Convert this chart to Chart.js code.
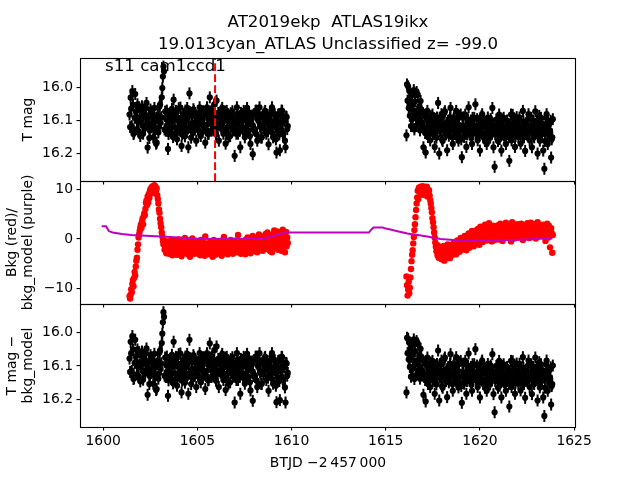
<!DOCTYPE html>
<html><head><meta charset="utf-8">
<script src="https://cdn.jsdelivr.net/npm/chart.js@4.4.1/dist/chart.umd.min.js"></script>
<style>
html,body{margin:0;padding:0;background:#fff;}
#wrap{position:relative;width:640px;height:480px;background:#fff;}
canvas{position:absolute;left:0;top:0;}
</style></head><body>
<div id="wrap">
<canvas id="c1" width="640" height="480"></canvas>
<canvas id="c2" width="640" height="480"></canvas>
<canvas id="c3" width="640" height="480"></canvas>
</div>
<script>
// ---- data ----
const titleLines = ["AT2019ekp  ATLAS19ikx", "19.013cyan_ATLAS Unclassified z= -99.0"];
const panelNote = "s11 cam1ccd1";
const xTitle = "BTJD \u22122\u2009457\u2009000";
const yTitles = ["T mag", ["Bkg (red)/", "bkg_model (purple)"], ["T mag \u2212", "bkg_model"]];
const xTicks = [1600, 1605, 1610, 1615, 1620, 1625];
const magTicks = [16.0, 16.1, 16.2];
const bkgTicks = [10, 0, -10];
const eventTime = 1605.94;

// times, orbit 1
const t1 = [
1601.40,1601.43,1601.46,1601.49,1601.52,1601.55,1601.58,1601.61,1601.64,1601.67,1601.70,1601.73,1601.76,1601.79,1601.82,1601.85,1601.88,1601.91,1601.94,1601.97,
1602.00,1602.03,1602.06,1602.09,1602.12,1602.15,1602.18,1602.21,1602.24,1602.27,1602.30,1602.33,1602.36,1602.39,1602.42,1602.45,1602.48,1602.51,1602.54,1602.57,
1602.60,1602.63,1602.66,1602.69,1602.72,1602.75,1602.78,1602.81,1602.84,1602.87,1602.90,1602.93,1602.96,1602.99,1603.02,1603.05,1603.08,1603.11,1603.14,1603.17,
1603.20,1603.23,1603.26,1603.29,1603.32,1603.35,1603.38,1603.41,1603.44,1603.47,1603.50,1603.53,1603.56,1603.59,1603.62,1603.65,1603.68,1603.71,1603.74,1603.77,
1603.80,1603.83,1603.86,1603.89,1603.92,1603.95,1603.98,1604.01,1604.04,1604.07,1604.10,1604.13,1604.16,1604.19,1604.22,1604.25,1604.28,1604.31,1604.34,1604.37,
1604.40,1604.43,1604.46,1604.49,1604.52,1604.55,1604.58,1604.61,1604.64,1604.67,1604.70,1604.73,1604.76,1604.79,1604.82,1604.85,1604.88,1604.91,1604.94,1604.97,
1605.00,1605.03,1605.06,1605.09,1605.12,1605.15,1605.18,1605.21,1605.24,1605.27,1605.30,1605.33,1605.36,1605.39,1605.42,1605.45,1605.48,1605.51,1605.54,1605.57,
1605.60,1605.63,1605.66,1605.69,1605.72,1605.75,1605.78,1605.81,1605.84,1605.87,1605.90,1605.93,1605.96,1605.99,1606.02,1606.05,1606.08,1606.11,1606.14,1606.17,
1606.20,1606.23,1606.26,1606.29,1606.32,1606.35,1606.38,1606.41,1606.44,1606.47,1606.50,1606.53,1606.56,1606.59,1606.62,1606.65,1606.68,1606.71,1606.74,1606.77,
1606.80,1606.83,1606.86,1606.89,1606.92,1606.95,1606.98,1607.01,1607.04,1607.07,1607.10,1607.13,1607.16,1607.19,1607.22,1607.25,1607.28,1607.31,1607.34,1607.37,
1607.40,1607.43,1607.46,1607.49,1607.52,1607.55,1607.58,1607.61,1607.64,1607.67,1607.70,1607.73,1607.76,1607.79,1607.82,1607.85,1607.88,1607.91,1607.94,1607.97,
1608.00,1608.03,1608.06,1608.09,1608.12,1608.15,1608.18,1608.21,1608.24,1608.27,1608.30,1608.33,1608.36,1608.39,1608.42,1608.45,1608.48,1608.51,1608.54,1608.57,
1608.60,1608.63,1608.66,1608.69,1608.72,1608.75,1608.78,1608.81,1608.84,1608.87,1608.90,1608.93,1608.96,1608.99,1609.02,1609.05,1609.08,1609.11,1609.14,1609.17,
1609.20,1609.23,1609.26,1609.29,1609.32,1609.35,1609.38,1609.41,1609.44,1609.47,1609.50,1609.53,1609.56,1609.59,1609.62,1609.65,1609.68,1609.71,1609.74,1609.77,
1609.80];
// times, orbit 2
const t2 = [
1616.10,1616.13,1616.16,1616.19,1616.22,1616.25,1616.28,1616.31,1616.34,1616.37,1616.40,1616.43,1616.46,1616.49,1616.52,1616.55,1616.58,1616.61,1616.64,1616.67,
1616.70,1616.73,1616.76,1616.79,1616.82,1616.85,1616.88,1616.91,1616.94,1616.97,1617.00,1617.03,1617.06,1617.09,1617.12,1617.15,1617.18,1617.21,1617.24,1617.27,
1617.30,1617.33,1617.36,1617.39,1617.42,1617.45,1617.48,1617.51,1617.54,1617.57,1617.60,1617.63,1617.66,1617.69,1617.72,1617.75,1617.78,1617.81,1617.84,1617.87,
1617.90,1617.93,1617.96,1617.99,1618.02,1618.05,1618.08,1618.11,1618.14,1618.17,1618.20,1618.23,1618.26,1618.29,1618.32,1618.35,1618.38,1618.41,1618.44,1618.47,
1618.50,1618.53,1618.56,1618.59,1618.62,1618.65,1618.68,1618.71,1618.74,1618.77,1618.80,1618.83,1618.86,1618.89,1618.92,1618.95,1618.98,1619.01,1619.04,1619.07,
1619.10,1619.13,1619.16,1619.19,1619.22,1619.25,1619.28,1619.31,1619.34,1619.37,1619.40,1619.43,1619.46,1619.49,1619.52,1619.55,1619.58,1619.61,1619.64,1619.67,
1619.70,1619.73,1619.76,1619.79,1619.82,1619.85,1619.88,1619.91,1619.94,1619.97,1620.00,1620.03,1620.06,1620.09,1620.12,1620.15,1620.18,1620.21,1620.24,1620.27,
1620.30,1620.33,1620.36,1620.39,1620.42,1620.45,1620.48,1620.51,1620.54,1620.57,1620.60,1620.63,1620.66,1620.69,1620.72,1620.75,1620.78,1620.81,1620.84,1620.87,
1620.90,1620.93,1620.96,1620.99,1621.02,1621.05,1621.08,1621.11,1621.14,1621.17,1621.20,1621.23,1621.26,1621.29,1621.32,1621.35,1621.38,1621.41,1621.44,1621.47,
1621.50,1621.53,1621.56,1621.59,1621.62,1621.65,1621.68,1621.71,1621.74,1621.77,1621.80,1621.83,1621.86,1621.89,1621.92,1621.95,1621.98,1622.01,1622.04,1622.07,
1622.10,1622.13,1622.16,1622.19,1622.22,1622.25,1622.28,1622.31,1622.34,1622.37,1622.40,1622.43,1622.46,1622.49,1622.52,1622.55,1622.58,1622.61,1622.64,1622.67,
1622.70,1622.73,1622.76,1622.79,1622.82,1622.85,1622.88,1622.91,1622.94,1622.97,1623.00,1623.03,1623.06,1623.09,1623.12,1623.15,1623.18,1623.21,1623.24,1623.27,
1623.30,1623.33,1623.36,1623.39,1623.42,1623.45,1623.48,1623.51,1623.54,1623.57,1623.60,1623.63,1623.66,1623.69,1623.72,1623.75,1623.78,1623.81,1623.84,1623.87];

// T mag, orbit 1
const mag1 = [
16.083,16.121,16.032,16.065,16.118,16.012,16.054,16.142,16.138,16.093,16.021,16.074,16.089,16.127,16.052,16.105,16.133,16.061,16.096,16.148,
16.102,16.071,16.058,16.116,16.141,16.087,16.079,16.124,16.118,16.063,16.048,16.095,16.183,16.112,16.091,16.154,16.131,16.068,16.074,16.109,
16.113,16.082,16.152,16.097,16.063,16.128,16.104,16.171,16.168,16.092,16.084,16.137,16.121,16.059,16.053,16.108,16.091,16.031,16.003,15.968,
15.938,15.952,16.128,16.074,16.132,16.097,16.071,16.116,16.187,16.142,16.109,16.083,16.079,16.125,16.138,16.066,16.102,16.151,16.038,16.094,
16.121,16.086,16.072,16.139,16.158,16.101,16.093,16.064,16.131,16.117,16.062,16.096,16.178,16.143,16.112,16.081,16.083,16.126,16.149,16.071,
16.101,16.135,16.063,16.094,16.182,16.121,16.019,16.076,16.121,16.153,16.082,16.108,16.139,16.067,16.073,16.128,16.109,16.091,16.162,16.114,
16.092,16.127,16.131,16.078,16.061,16.104,16.148,16.093,16.102,16.136,16.073,16.117,16.121,16.084,16.168,16.129,16.083,16.061,16.112,16.142,
16.141,16.098,16.031,16.074,16.101,16.132,16.072,16.118,16.129,16.086,16.052,16.107,16.091,16.143,16.041,16.093,16.121,16.078,16.162,16.114,
16.083,16.119,16.112,16.069,16.063,16.128,16.141,16.092,16.102,16.074,16.171,16.133,16.072,16.098,16.121,16.152,16.093,16.111,16.148,16.079,
16.112,16.087,16.073,16.124,16.131,16.099,16.208,16.117,16.092,16.141,16.061,16.083,16.141,16.106,16.103,16.132,16.182,16.078,16.081,16.123,
16.121,16.094,16.072,16.138,16.152,16.081,16.101,16.127,16.063,16.112,16.131,16.076,16.093,16.148,16.172,16.104,16.113,16.086,16.203,16.129,
16.083,16.126,16.131,16.072,16.071,16.143,16.162,16.097,16.102,16.082,16.061,16.118,16.121,16.153,16.152,16.089,16.091,16.124,16.113,16.076,
16.072,16.109,16.141,16.088,16.102,16.134,16.173,16.096,16.083,16.121,16.121,16.072,16.061,16.139,16.152,16.104,16.112,16.082,16.093,16.158,
16.198,16.117,16.131,16.084,16.082,16.143,16.191,16.106,16.113,16.071,16.072,16.138,16.141,16.096,16.102,16.162,16.182,16.089,16.091,16.127,
16.118];
// T mag, orbit 2
const mag2 = [
16.146,15.992,16.041,15.998,16.063,16.012,16.087,16.031,16.118,16.053,16.024,16.096,16.071,16.009,16.128,16.044,16.082,16.117,16.015,16.074,
16.023,16.104,16.091,16.058,16.131,16.042,16.067,16.113,16.108,16.079,16.182,16.124,16.084,16.139,16.198,16.093,16.121,16.072,16.151,16.106,
16.102,16.137,16.161,16.088,16.121,16.104,16.083,16.142,16.141,16.117,16.181,16.096,16.112,16.153,16.092,16.128,16.048,16.111,16.201,16.133,
16.131,16.094,16.082,16.158,16.163,16.121,16.112,16.078,16.073,16.136,16.143,16.108,16.191,16.124,16.102,16.147,16.132,16.091,16.063,16.118,
16.121,16.152,16.172,16.098,16.093,16.131,16.142,16.116,16.072,16.103,16.112,16.149,16.162,16.087,16.131,16.124,16.083,16.158,16.212,16.117,
16.122,16.091,16.151,16.138,16.083,16.117,16.181,16.143,16.112,16.098,16.061,16.132,16.143,16.109,16.101,16.154,16.172,16.093,16.131,16.118,
16.093,16.127,16.052,16.141,16.133,16.097,16.161,16.112,16.103,16.146,16.192,16.124,16.121,16.088,16.082,16.139,16.152,16.107,16.112,16.163,
16.141,16.113,16.172,16.128,16.092,16.151,16.121,16.138,16.153,16.097,16.102,16.134,16.063,16.117,16.182,16.129,16.241,16.143,16.132,16.098,
16.112,16.143,16.163,16.121,16.083,16.157,16.141,16.102,16.192,16.134,16.121,16.098,16.093,16.146,16.153,16.119,16.172,16.128,16.101,16.138,
16.131,16.152,16.223,16.117,16.112,16.083,16.161,16.137,16.084,16.129,16.141,16.103,16.181,16.148,16.122,16.091,16.102,16.139,16.151,16.124,
16.092,16.133,16.171,16.118,16.132,16.149,16.072,16.104,16.152,16.127,16.193,16.111,16.113,16.142,16.143,16.097,16.082,16.131,16.161,16.118,
16.121,16.093,16.182,16.138,16.101,16.147,16.152,16.119,16.073,16.128,16.131,16.101,16.201,16.143,16.112,16.087,16.162,16.121,16.093,16.137,
16.142,16.111,16.192,16.127,16.247,16.163,16.121,16.093,16.082,16.138,16.172,16.118,16.112,16.147,16.131,16.102,16.213,16.158,16.152,16.097];

// background flux, orbit 1
const bkg1 = [
-11.6,-12.1,-11.3,-10.2,-10.8,-9.1,-8.3,-9.6,-7.9,-6.7,-7.4,-5.6,-4.4,-3.8,-2.2,-1.1,0.3,0.9,1.6,2.3,
2.9,2.2,3.5,4.1,3.0,4.6,5.2,4.8,6.1,7.3,7.8,6.9,8.6,7.4,9.1,8.3,9.7,10.1,9.2,10.5,
9.8,10.7,10.2,9.4,10.9,10.4,10.6,9.9,10.3,8.9,8.1,7.2,6.0,5.3,4.1,3.2,2.4,1.3,0.5,-0.4,
-1.1,-0.3,-2.2,-1.6,-0.7,-2.9,-1.3,-0.5,-2.4,-1.8,-3.0,-0.9,-1.5,-2.6,-0.2,-1.9,-3.3,-1.2,-0.6,-2.1,
-1.4,-2.7,-0.4,-1.8,-3.2,-1.0,-2.3,-0.1,-1.6,-2.9,-1.1,-0.7,-3.5,-1.9,-2.4,-0.3,-1.5,-2.8,0.2,-1.3,
-2.2,-0.8,-1.7,-3.1,-0.5,-2.5,-1.2,-3.6,-0.9,-1.9,-2.7,0.1,-1.4,-2.2,-0.6,-3.0,-1.7,-1.0,-2.5,-0.4,
-1.6,-2.9,-0.8,-2.1,-1.3,-3.3,-0.2,-1.9,-2.6,-1.1,-0.6,-2.8,-1.5,-3.4,0.5,-1.2,-2.3,-0.9,-1.8,-2.5,
-1.0,-3.1,-2.4,-0.5,-1.7,-2.8,-0.9,-3.6,-1.4,-0.2,-2.1,-1.6,-3.2,-0.8,-1.9,-2.5,-1.2,-0.4,-2.9,-1.5,
-0.7,-2.3,-1.8,-3.4,-0.3,-1.1,-2.6,0.4,-1.5,-2.9,-0.8,-1.7,-2.2,-0.5,-3.1,-1.3,-0.9,-2.4,-1.6,-0.2,
-2.0,-1.2,-0.6,-3.0,-2.5,-0.9,-1.4,-2.1,-0.3,-1.8,-2.7,-0.8,0.8,-1.5,-2.2,-0.4,-1.9,-3.0,-1.1,-0.6,
-2.6,-1.3,-0.7,-2.0,-1.5,-3.1,-0.1,-1.7,-2.4,0.3,-1.0,-2.2,-0.6,-1.4,-2.9,-0.8,-1.8,-0.3,0.6,-1.6,
-2.0,-0.9,-1.3,-2.5,-0.4,-1.7,-2.7,0.2,-1.1,0.9,-1.8,-0.6,-0.9,-2.3,-1.4,0.5,-2.4,-0.7,-1.0,-1.9,
-0.2,1.0,-1.6,-0.4,1.3,-2.1,-0.8,0.6,-1.4,-2.5,0.4,-0.9,-2.7,0.9,-1.2,-0.3,1.7,-1.9,0.2,-0.6,
-1.1,1.5,0.1,-2.2,-0.8,1.2,-0.4,-1.6,0.7,-2.4,-0.9,1.9,-0.1,-1.3,0.6,-2.7,-0.5,1.4,-1.5,0.3,
-0.8];
// background flux, orbit 2
const bkg2 = [
-7.6,-9.4,-11.5,-10.3,-8.7,-11.0,-9.9,-7.8,-6.1,-4.5,-3.2,-2.3,-0.9,0.4,1.8,3.0,4.4,5.9,7.2,8.4,
9.8,8.1,10.4,9.6,10.2,10.6,9.1,10.4,9.9,10.7,10.1,8.9,10.5,9.4,10.3,9.8,10.6,8.6,10.0,9.5,
9.9,8.8,7.9,7.2,6.3,5.4,4.2,3.4,2.4,1.3,0.3,-0.7,-1.6,-2.5,-1.2,-3.3,-2.0,-3.8,-1.5,-2.8,
-2.2,-3.6,-4.1,-1.8,-2.9,-3.3,-1.4,-4.4,-2.5,-3.0,-1.9,-3.7,-2.4,-1.1,-3.1,-2.7,-1.6,-3.9,-2.2,-1.3,
-2.6,-1.5,-3.2,-0.9,-2.1,-2.8,-0.6,-1.7,-3.1,-1.2,-0.3,-2.4,-1.9,-0.8,-2.6,-1.4,0.2,-1.0,-2.2,-0.5,
-1.6,-0.4,-2.0,0.6,-1.1,-0.7,-2.3,0.3,-1.4,-0.2,1.1,-1.8,-0.6,0.8,-1.2,-0.1,1.6,-0.9,0.4,-1.5,
0.2,-0.7,1.3,-1.1,1.8,0.5,-0.4,2.1,0.1,-1.2,1.0,2.5,-0.3,0.8,1.6,-0.6,2.2,1.1,0.3,2.9,
0.9,1.8,-0.3,2.6,1.2,0.4,3.2,1.5,0.1,2.2,1.0,-0.5,1.9,2.7,0.6,1.3,-0.2,2.4,1.6,0.8,
0.5,2.1,2.8,1.0,-0.1,1.7,3.1,0.6,2.3,1.4,-0.4,2.0,0.9,2.6,1.3,0.2,3.3,1.8,0.7,1.5,
2.7,1.1,0.4,2.2,1.6,-0.5,1.9,3.4,0.8,2.5,1.2,0.1,2.9,1.5,0.6,2.1,1.0,3.0,0.3,1.7,
2.4,1.0,0.6,3.1,1.8,1.2,-0.2,2.3,1.5,0.3,2.8,1.1,0.5,2.0,3.2,0.9,1.6,0.2,2.6,1.4,
3.3,1.2,2.0,0.4,2.7,1.5,0.8,3.0,1.9,0.1,2.3,1.1,3.4,0.6,1.7,2.5,0.9,1.4,2.8,0.7,
2.1,1.3,2.9,0.5,1.8,2.6,-0.4,1.0,2.3,3.1,1.6,0.3,2.7,0.9,-1.7,1.9,2.2,1.2,-2.8,0.8];

// background model
const modelT = [1599.92,1600.15,1600.30,1600.50,1601.00,1601.50,1602.00,1602.50,1603.10,1604.00,1605.00,1606.00,1607.00,1608.00,1608.50,1609.00,1609.40,1609.70,1610.50,1611.50,1612.50,1613.50,1614.10,1614.25,1614.35,1614.85,1615.00,1615.25,1615.46,1615.80,1616.15,1616.70,1617.20,1617.90,1618.60,1619.60,1620.50,1621.40,1622.40,1623.50,1623.85];
const modelV = [2.6,2.6,1.6,1.3,1.0,0.8,0.7,0.6,0.5,0.3,0.05,0.0,0.0,0.05,0.1,0.55,1.0,1.3,1.3,1.3,1.3,1.3,1.3,2.0,2.3,2.3,2.1,1.9,1.7,1.4,1.1,0.8,0.5,0.0,-0.2,-0.3,-0.3,-0.2,-0.1,0.1,0.1];

// T mag - bkg_model, orbit 1
const corr1 = [
16.078,16.118,16.028,16.062,16.115,16.011,16.051,16.139,16.136,16.091,16.022,16.072,16.087,16.125,16.051,16.103,16.131,16.059,16.095,16.146,
16.101,16.069,16.057,16.115,16.141,16.086,16.078,16.123,16.118,16.062,16.048,16.095,16.186,16.112,16.091,16.154,16.131,16.068,16.074,16.109,
16.113,16.083,16.153,16.098,16.064,16.129,16.105,16.172,16.169,16.093,16.085,16.138,16.122,16.060,16.054,16.109,16.092,16.032,16.004,15.970,
15.940,15.954,16.129,16.075,16.133,16.098,16.072,16.117,16.189,16.143,16.110,16.084,16.080,16.126,16.139,16.067,16.103,16.152,16.028,16.095,
16.122,16.087,16.073,16.140,16.159,16.102,16.094,16.065,16.132,16.118,16.063,16.097,16.179,16.144,16.113,16.082,16.084,16.127,16.150,16.072,
16.102,16.136,16.064,16.095,16.183,16.122,16.022,16.077,16.122,16.154,16.083,16.109,16.140,16.068,16.074,16.129,16.110,16.092,16.163,16.115,
16.093,16.128,16.132,16.079,16.062,16.105,16.149,16.094,16.103,16.137,16.074,16.118,16.122,16.085,16.169,16.130,16.084,16.062,16.113,16.143,
16.142,16.099,16.033,16.075,16.102,16.133,16.073,16.119,16.130,16.087,16.053,16.108,16.092,16.144,16.042,16.094,16.122,16.079,16.163,16.115,
16.084,16.120,16.113,16.070,16.064,16.129,16.142,16.093,16.103,16.075,16.172,16.134,16.073,16.099,16.122,16.153,16.094,16.112,16.149,16.080,
16.113,16.088,16.074,16.125,16.132,16.100,16.209,16.118,16.093,16.142,16.062,16.084,16.142,16.107,16.104,16.133,16.183,16.079,16.082,16.124,
16.122,16.095,16.073,16.139,16.153,16.082,16.102,16.128,16.064,16.113,16.132,16.077,16.094,16.149,16.173,16.105,16.114,16.087,16.204,16.130,
16.084,16.127,16.132,16.073,16.072,16.144,16.163,16.098,16.103,16.083,16.062,16.119,16.122,16.154,16.153,16.090,16.092,16.125,16.114,16.077,
16.073,16.110,16.142,16.089,16.103,16.135,16.174,16.097,16.084,16.122,16.122,16.073,16.062,16.140,16.153,16.105,16.113,16.083,16.094,16.159,
16.208,16.119,16.133,16.086,16.084,16.145,16.202,16.108,16.115,16.073,16.074,16.140,16.143,16.098,16.104,16.164,16.209,16.091,16.093,16.129,
16.121];
// T mag - bkg_model, orbit 2
const corr2 = [
16.179,16.016,16.062,16.019,16.081,16.031,16.103,16.048,16.132,16.068,16.038,16.109,16.083,16.021,16.139,16.056,16.093,16.127,16.026,16.085,
16.033,16.113,16.099,16.066,16.138,16.049,16.073,16.119,16.113,16.084,16.186,16.128,16.088,16.142,16.206,16.096,16.124,16.075,16.154,16.109,
16.104,16.139,16.163,16.090,16.123,16.106,16.085,16.144,16.143,16.119,16.183,16.098,16.114,16.155,16.094,16.130,16.054,16.113,16.203,16.135,
16.133,16.096,16.084,16.160,16.165,16.123,16.114,16.080,16.075,16.138,16.145,16.110,16.193,16.126,16.104,16.149,16.134,16.093,16.065,16.120,
16.123,16.154,16.174,16.100,16.095,16.133,16.144,16.118,16.074,16.105,16.114,16.151,16.164,16.089,16.133,16.126,16.085,16.160,16.210,16.119,
16.124,16.093,16.153,16.140,16.085,16.119,16.183,16.145,16.114,16.100,16.063,16.134,16.145,16.111,16.103,16.156,16.174,16.095,16.133,16.120,
16.095,16.129,16.050,16.143,16.135,16.099,16.163,16.114,16.105,16.148,16.194,16.126,16.123,16.090,16.084,16.141,16.154,16.109,16.114,16.165,
16.143,16.115,16.174,16.130,16.094,16.153,16.123,16.140,16.155,16.099,16.104,16.136,16.065,16.119,16.184,16.131,16.238,16.145,16.134,16.100,
16.114,16.145,16.165,16.123,16.085,16.159,16.143,16.104,16.194,16.136,16.123,16.100,16.095,16.148,16.155,16.121,16.174,16.130,16.103,16.140,
16.133,16.154,16.221,16.119,16.114,16.085,16.163,16.139,16.086,16.131,16.143,16.105,16.183,16.150,16.124,16.093,16.104,16.141,16.153,16.126,
16.094,16.135,16.173,16.120,16.134,16.151,16.074,16.106,16.154,16.129,16.195,16.113,16.115,16.144,16.145,16.099,16.084,16.133,16.163,16.120,
16.123,16.095,16.184,16.140,16.103,16.149,16.154,16.121,16.075,16.130,16.133,16.103,16.203,16.145,16.114,16.089,16.164,16.123,16.095,16.139,
16.144,16.113,16.194,16.129,16.249,16.165,16.123,16.095,16.084,16.140,16.174,16.120,16.114,16.149,16.133,16.104,16.215,16.160,16.154,16.099];

// ---- drawing ----
const FONT = "'DejaVu Sans', sans-serif";
const X_MIN = 1598.77, X_MAX = 1625.1;
function pairs(ts, vs) { return ts.map((t, i) => ({x: t, y: vs[i]})); }
function fmtMinus(v) { return v < 0 ? '\u2212' + Math.abs(v) : String(v); }

const framePlugin = {
  id: 'frame',
  afterDraw(chart) {
    const {ctx, chartArea: a} = chart;
    ctx.save();
    ctx.strokeStyle = '#000';
    ctx.lineWidth = 1.1;
    ctx.strokeRect(Math.round(a.left) + 0.5, Math.round(a.top) + 0.5, Math.round(a.right - a.left) - 1, Math.round(a.bottom - a.top));
    ctx.restore();
  }
};
const topTextPlugin = {
  id: 'topText',
  afterDatasetsDraw(chart) {
    const {ctx, chartArea: a} = chart;
    const x = chart.scales.x.getPixelForValue(eventTime);
    ctx.save();
    ctx.strokeStyle = '#ff0000';
    ctx.lineWidth = 2;
    ctx.setLineDash([7.7, 3.3]);
    ctx.beginPath();
    ctx.moveTo(x, a.bottom);
    ctx.lineTo(x, a.top);
    ctx.stroke();
    ctx.restore();
  },
  afterDraw(chart) {
    const {ctx, chartArea: a} = chart;
    ctx.save();
    ctx.fillStyle = '#000';
    ctx.font = "16.67px " + FONT;
    ctx.textAlign = 'center';
    ctx.textBaseline = 'alphabetic';
    const cx = (a.left + a.right) / 2;
    ctx.fillText(titleLines[0], cx, 27);
    ctx.fillText(titleLines[1], cx, 48.5);
    ctx.textAlign = 'left';
    ctx.fillText(panelNote, a.left + 25, 70.5);
    ctx.restore();
  }
};

function xAxis(showLabels) {
  return {
    type: 'linear', min: X_MIN, max: X_MAX,
    afterBuildTicks: s => { s.ticks = xTicks.map(v => ({value: v})); },
    afterFit: s => { s.height = showLabels ? 53 : 0; },
    grid: {display: true, drawOnChartArea: false, drawTicks: true, tickLength: 3.5, color: '#000', lineWidth: 1.1},
    border: {display: false},
    ticks: {display: showLabels, color: '#000', font: {family: FONT, size: 13.9}, padding: 3, maxRotation: 0, autoSkip: false,
            callback: v => String(v)},
    title: {display: showLabels, text: xTitle, color: '#000', font: {family: FONT, size: 13.9, lineHeight: 1.17}, padding: {top: 0, bottom: 8}}
  };
}
function yAxis(min, max, ticks, title, titlePad, reverse, fmt) {
  return {
    type: 'linear', min: min, max: max, reverse: reverse,
    afterFit: s => { s.width = 80; },
    afterBuildTicks: s => { s.ticks = ticks.map(v => ({value: v})); },
    grid: {display: true, drawOnChartArea: false, drawTicks: true, tickLength: 3.5, color: '#000', lineWidth: 1.1},
    border: {display: false},
    ticks: {color: '#000', font: {family: FONT, size: 13.9}, padding: 3.5, callback: fmt},
    title: {display: true, text: title, color: '#000', font: {family: FONT, size: 13.9, lineHeight: 1.17}, padding: {top: titlePad, bottom: 0}}
  };
}
function baseOptions(padTop, padBottom, xa, ya) {
  return {
    responsive: false, animation: false, events: [],
    layout: {padding: {top: padTop, bottom: padBottom, left: 0, right: 64}},
    plugins: {legend: {display: false}, tooltip: {enabled: false}, title: {display: false}},
    scales: {x: xa, y: ya}
  };
}
function magDatasets(pts) {
  return [
    {data: pts, pointStyle: 'circle', pointRadius: 3.1, backgroundColor: '#000', borderWidth: 0, showLine: false},
    {data: pts, pointStyle: 'line', rotation: 90, pointRadius: 6, borderColor: '#000', borderWidth: 2, backgroundColor: '#000', showLine: false}
  ];
}

const topPts = pairs(t1, mag1).concat(pairs(t2, mag2));
const corrPts = pairs(t1, corr1).concat(pairs(t2, corr2));
const bkgPts = pairs(t1, bkg1).concat(pairs(t2, bkg2));
const modelPts = pairs(modelT, modelV);

new Chart(document.getElementById('c1'), {
  type: 'scatter',
  data: {datasets: magDatasets(topPts)},
  options: baseOptions(58, 480 - 181, xAxis(false), yAxis(15.912, 16.284, magTicks, yTitles[0], 20, true, v => v.toFixed(1))),
  plugins: [framePlugin, topTextPlugin]
});
new Chart(document.getElementById('c2'), {
  type: 'scatter',
  data: {datasets: [
    {data: modelPts, showLine: true, borderColor: '#bf00bf', borderWidth: 2, pointRadius: 0, fill: false, tension: 0},
    {data: bkgPts, pointStyle: 'circle', pointRadius: 3.2, backgroundColor: '#ff0000', borderWidth: 0, showLine: false}
  ]},
  options: baseOptions(181, 480 - 304, xAxis(false), yAxis(-13.2, 11.76, bkgTicks, yTitles[1], 4, false, fmtMinus)),
  plugins: [framePlugin]
});
new Chart(document.getElementById('c3'), {
  type: 'scatter',
  data: {datasets: magDatasets(corrPts)},
  options: baseOptions(304, 0, xAxis(true), yAxis(15.9155, 16.282, magTicks, yTitles[2], 4, true, v => v.toFixed(1))),
  plugins: [framePlugin]
});
</script>
</body></html>
